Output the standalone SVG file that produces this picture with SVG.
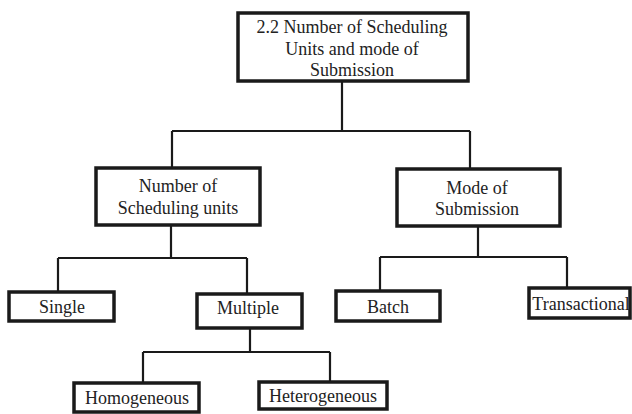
<svg xmlns="http://www.w3.org/2000/svg" width="632" height="414" viewBox="0 0 632 414">
<style>
.box{fill:#fff;stroke:#1a1a1a;stroke-width:3.5}
.t{font-family:"Liberation Serif","Times New Roman",serif;font-size:18px;fill:#222;text-anchor:middle}
.c{fill:none;stroke:#1a1a1a;stroke-width:2.2}
</style>
<rect width="632" height="414" fill="#fff"/>
<g id="connectors">
<path class="c" d="M342 82V131M172 131H470M172 131V167M470 131V168"/>
<path class="c" d="M171 226V258M58 258H247M58 258V291M247 258V293"/>
<path class="c" d="M478 227V257M380 257H567M380 257V290M567 257V287"/>
<path class="c" d="M250 329V352M143 352H330M143 352V382M330 352V381"/>
</g>
<g id="root">
<rect class="box" x="238" y="13" width="230" height="68"/>
<text class="t" x="352" y="33">2.2 Number of Scheduling</text>
<text class="t" x="352" y="55">Units and mode of</text>
<text class="t" x="352" y="76">Submission</text>
</g>
<g id="num-units">
<rect class="box" x="96" y="168" width="164" height="57"/>
<text class="t" x="178" y="192">Number of</text>
<text class="t" x="178" y="214">Scheduling units</text>
</g>
<g id="mode">
<rect class="box" x="397" y="169" width="163" height="57"/>
<text class="t" x="477" y="194">Mode of</text>
<text class="t" x="477" y="215">Submission</text>
</g>
<g id="single">
<rect class="box" x="9" y="292" width="105" height="29"/>
<text class="t" x="62" y="313">Single</text>
</g>
<g id="multiple">
<rect class="box" x="197" y="294" width="105" height="34"/>
<text class="t" x="248" y="314">Multiple</text>
</g>
<g id="batch">
<rect class="box" x="336" y="291" width="104" height="30"/>
<text class="t" x="388" y="313">Batch</text>
</g>
<g id="transactional">
<rect class="box" x="529" y="288" width="101" height="30"/>
<text class="t" x="581" y="310">Transactional</text>
</g>
<g id="homogeneous">
<rect class="box" x="74" y="383" width="125" height="29"/>
<text class="t" x="137" y="404">Homogeneous</text>
</g>
<g id="heterogeneous">
<rect class="box" x="259" y="382" width="128" height="27"/>
<text class="t" x="323" y="402">Heterogeneous</text>
</g>
</svg>
